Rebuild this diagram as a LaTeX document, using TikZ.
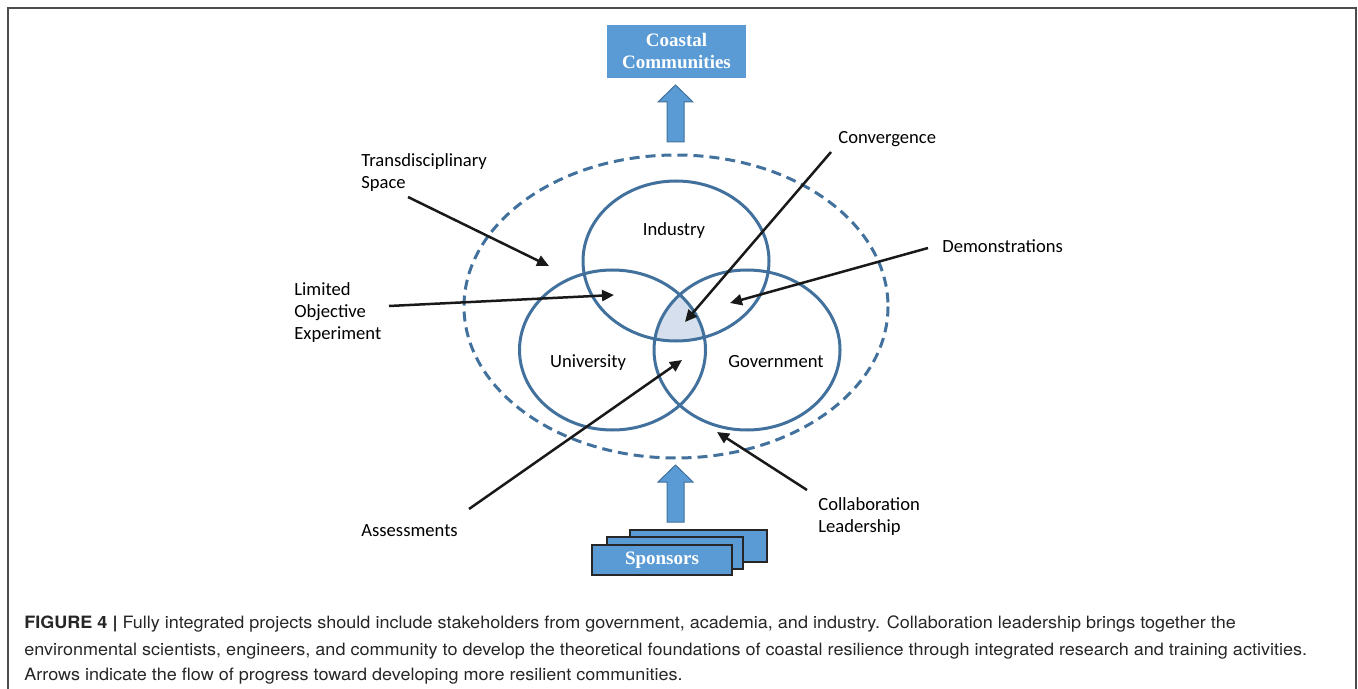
\documentclass[tikz,border=0pt]{standalone}
\usepackage{fontspec}
\setmainfont{Carlito}
\newfontfamily\capfont[FakeStretch=1.06]{TeX Gyre Heros}
\newfontfamily\boxfont{Liberation Serif}
\usetikzlibrary{arrows.meta,positioning}
\usepackage{xcolor}
\definecolor{boxblue}{HTML}{5B9BD5}
\definecolor{ringblue}{HTML}{41719C}
\definecolor{coreblue}{HTML}{D5DFED}

\begin{document}
\begin{tikzpicture}[x=0.5pt,y=-0.5pt,
    lbl/.style={font=\fontsize{9.3}{11}\selectfont,%
      align=left,%
      anchor=west,%
      inner sep=0},
    ptr/.style={draw=black!90, line width=1.25pt,%
      -{Triangle[length=6pt,width=5.5pt]}},
    ring/.style={draw=ringblue, line width=1.5pt},
    bluebox/.style={fill=boxblue, text=white,%
      font=\boxfont\bfseries\fontsize{9.5}{11}\selectfont,%
      align=center, inner sep=0, outer sep=0},
    blockarr/.style={fill=boxblue, draw=ringblue, line width=0.5pt},
    captxt/.style={font=\capfont\fontsize{8.5}{13}\selectfont, text=black!85,%
      anchor=base west, inner sep=0}
  ]
  \useasboundingbox (0,0) rectangle (1358,689);
  \draw[black!70, line width=0.75pt] (8,689) -- (8,8) -- (1356,8) -- (1356,689);

  \coordinate (outer) at (676,306.5);
  \foreach \n/\cx/\cy in {ind/676/261,uni/612.5/350,gov/747/350}
    \coordinate (\n) at (\cx,\cy);
  \begin{scope}
    \clip (ind) ellipse (93 and 80);
    \clip (uni) ellipse (93 and 80);
    \fill[coreblue] (gov) ellipse (93 and 80);
  \end{scope}
  \foreach \n in {ind,uni,gov}
    \draw[ring] (\n) ellipse (93 and 80);
  \draw[ring, dash pattern=on 5pt off 3pt] (outer) ellipse (212 and 151.5);

  \node[lbl, anchor=center] (ind-t) at (674,231) {Industry};
  \node[lbl, anchor=center] (uni-t) at (588,363) {University};
  \node[lbl, anchor=center] (gov-t) at (776,362) {Government};

  \node[bluebox, minimum width=69.5pt, minimum height=26.5pt] (cc) at (676.5,51.5) {Coastal\\Communities};
  \foreach \i/\cx/\cy/\w/\h in {1/698.5/546/68.5pt/16pt,2/675/553/68pt/16pt}
    \node[bluebox, draw=black!85, line width=0.6pt, minimum width=\w, minimum height=\h] (s\i) at (\cx,\cy) {};
  \node[bluebox, draw=black!85, line width=0.6pt, minimum width=70pt, minimum height=15pt] (s3) at (662,560) {\raisebox{-1pt}{Sponsors}};

  \coordinate (up) at (675.5,142);
  \coordinate (sp) at (675.5,522);
  \foreach \a in {up,sp}
    \draw[blockarr] (\a) ++(-8.5,0) -- ++(0,-40) -- ++(-9,0) -- ++(17.5,-17)
      -- ++(17.5,17) -- ++(-9,0) -- ++(0,40) -- cycle;

  \node[lbl] (ts) at (361,173) {Transdisciplinary\\Space};
  \node[lbl] (loe) at (294,313) {Limited\\Objective\\Experiment};
  \node[lbl] (cv) at (838,139) {Convergence};
  \node[lbl] (dm) at (942,246) {Demonstrations};
  \node[lbl] (cl) at (818,517) {Collaboration\\Leadership};
  \node[lbl] (as) at (361,531) {Assessments};

  \foreach \n/\ax/\ay/\bx/\by in {ts/408/197/549/266,loe/389/306/614/295,cv/831/152/685/322,%
      dm/928/248/730/303,as/469/509/682/360,cl/807/490/717/432} {
    \coordinate (\n a) at (\ax,\ay);
    \coordinate (\n b) at (\bx,\by);
    \draw[ptr] (\n a) -- (\n b);
  }

  \node[captxt] (c1) at (24,628) {\textbf{FIGURE 4 |} Fully integrated projects should include stakeholders from government, academia, and industry. Collaboration leadership brings together the};
  \node[captxt] (c2) at (24,655) {environmental scientists, engineers, and community to develop the theoretical foundations of coastal resilience through integrated research and training activities.};
  \node[captxt] (c3) at (24,680) {Arrows indicate the flow of progress toward developing more resilient communities.};
\end{tikzpicture}
\end{document}
